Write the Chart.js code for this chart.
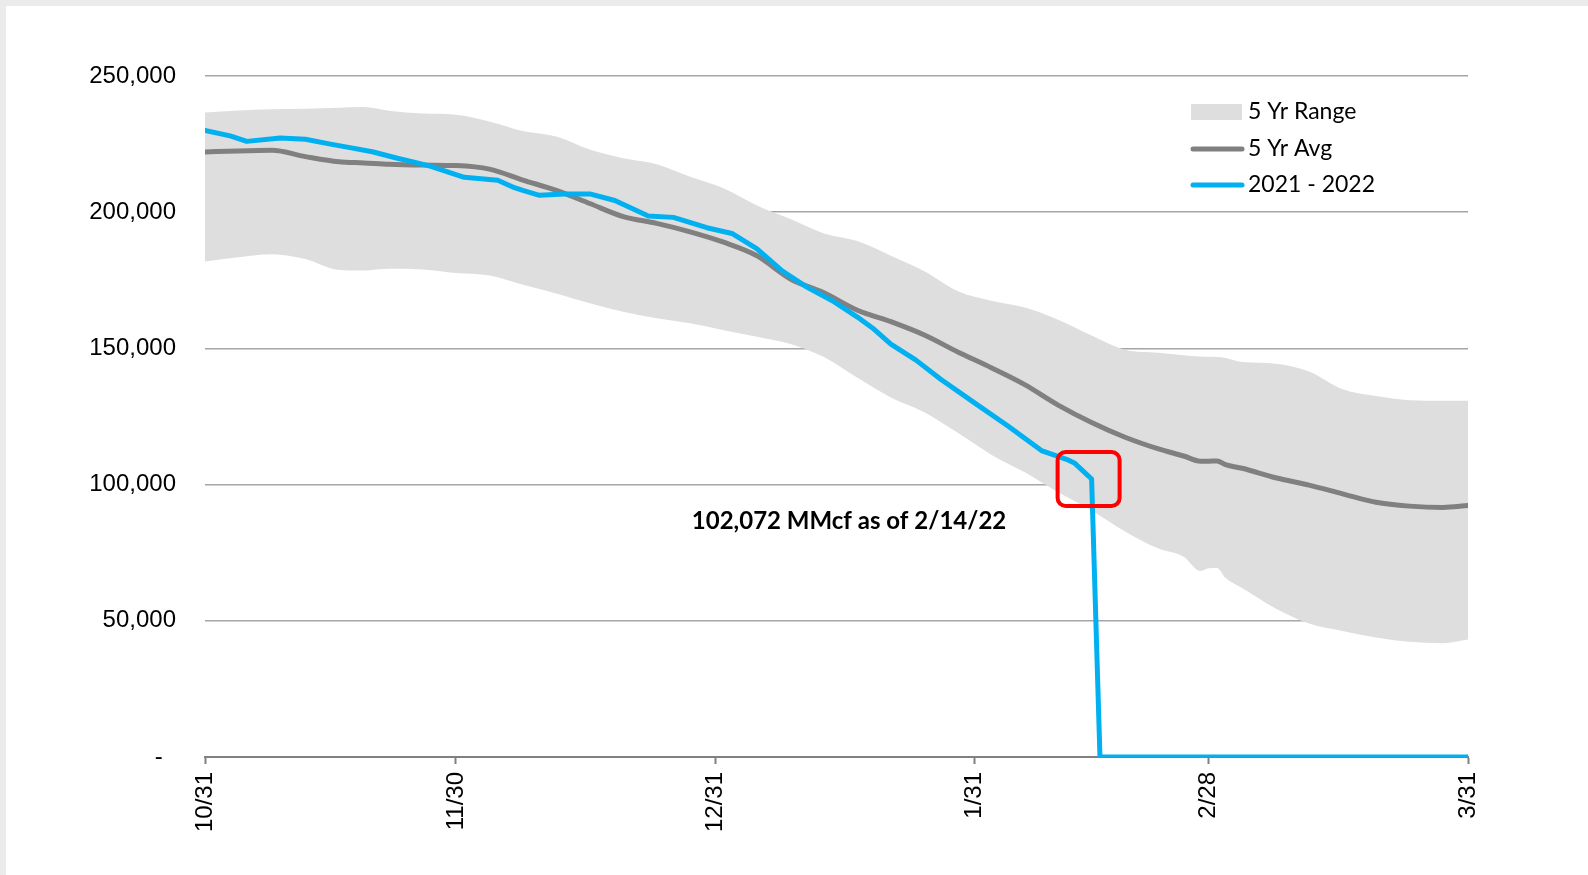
<!DOCTYPE html>
<html>
<head>
<meta charset="utf-8">
<script src="https://cdn.jsdelivr.net/npm/chart.js@4.4.0/dist/chart.umd.min.js"></script>
<style>
  html, body { margin: 0; padding: 0; }
  body { width: 1588px; height: 875px; background: #ebebeb; position: relative; overflow: hidden; }
  .sheet { position: absolute; left: 6px; top: 6px; right: 0; bottom: 0; background: #ffffff; }
  #chart { position: absolute; left: 0; top: 0; }
</style>
</head>
<body>
<div class="sheet"></div>
<canvas id="chart" width="1588" height="875"></canvas>
<script>
// days counted from 10/31
const tickDays = [0, 30, 61, 92, 120, 151];
const tickLabels = ["10/31", "11/30", "12/31", "1/31", "2/28", "3/31"];

const bandDays = [0, 4, 8, 12, 16, 19, 22, 26, 30, 34, 38, 42, 46, 50, 54, 58, 62, 66, 70, 74,
  78, 82, 86, 90, 94, 98, 102, 106, 110, 114, 117, 119, 120, 121, 122, 124, 128, 132, 136, 140,
  144, 148, 151];
const rangeHigh = [236600, 237300, 237800, 238000, 238300, 238600, 237200, 236200, 235800, 233300,
  229800, 227800, 223000, 219800, 217600, 213000, 208800, 202500, 197500, 192200,
  189400, 184000, 178300, 171000, 167500, 165000, 160500, 154700, 149500, 148400,
  147500, 147000, 146900, 146800, 146500, 145000, 144400, 141500, 135000, 132500,
  131000, 130800, 130800];
const rangeLow = [181900, 183500, 184600, 182800, 178800, 178600, 179200, 179000, 177700, 176800,
  173400, 170200, 166600, 163500, 161100, 159200, 156700, 154300, 151600, 146800,
  139200, 132000, 126600, 119000, 111000, 104500, 97200, 90500, 82800, 76500,
  73500, 68300, 69300, 69400, 65800, 62000, 54500, 49000, 46300, 43900,
  42300, 41800, 43100];
const avgValues = [222100, 222500, 222700, 220400, 218500, 218100, 217600, 217300, 217100, 215800,
  211800, 208000, 203200, 198400, 195900, 192800, 189000, 184000, 175500, 170400,
  164000, 159800, 154900, 148700, 142900, 136700, 129200, 122800, 117400, 113100,
  110500, 108600, 108600, 108700, 107300, 106000, 102500, 99800, 96600, 93500,
  92100, 91600, 92300];

const currentDays = [0, 3, 5, 9, 12, 15, 17, 20, 23, 25, 27, 31, 35, 37, 38, 40, 43, 46, 49, 53,
  56, 60, 63, 66, 69, 72, 75, 78, 80, 82, 85, 88, 92, 96, 100, 103, 104, 106, 107, 151];
const currentValues = [230000, 228000, 226000, 227200, 226800, 225000, 223900, 222200, 219800, 218400,
  216800, 212800, 211700, 209000, 208000, 206200, 206700, 206700, 204300, 198600,
  198100, 194300, 192200, 186500, 178500, 172400, 167500, 161500, 157000, 151600,
  145700, 138600, 130000, 121500, 112500, 109300, 107800, 102072, 0, 0];

const legendNames = ["5 Yr Range", "5 Yr Avg", "2021 - 2022"];
const noteText = "102,072 MMcf as of 2/14/22";
const noteDay = 77;
const noteValue = 86500;
const markDay = 106;
const markValue = 102072;

const rangeColor = "#dedede";
const avgColor = "#808080";
const currentColor = "#00b0f0";

function pairs(xs, ys) {
  return xs.map(function(x, i) {
    return { x: x, y: ys[i] };
  });
}

const extras = {
  id: "extras",
  afterDatasetsDraw(chart) {
    const ctx = chart.ctx;
    const xs = chart.scales.x;
    const ys = chart.scales.y;
    const area = chart.chartArea;
    ctx.save();

    // red box round the last reading
    const bx = xs.getPixelForValue(markDay) - 3;
    const by = ys.getPixelForValue(markValue);
    ctx.strokeStyle = "#ff0000";
    ctx.lineWidth = 4;
    ctx.beginPath();
    ctx.roundRect(bx - 31, by - 27, 62, 54, 8);
    ctx.stroke();

    // note
    ctx.fillStyle = "#000000";
    ctx.font = "bold 24px Lato";
    ctx.textAlign = "center";
    ctx.textBaseline = "middle";
    ctx.fillText(noteText, xs.getPixelForValue(noteDay), ys.getPixelForValue(noteValue));

    // legend
    const lx = area.right - 277;
    const rows = [area.top + 36, area.top + 73, area.top + 109];
    ctx.fillStyle = rangeColor;
    ctx.fillRect(lx, rows[0] - 8, 51, 16);
    ctx.lineCap = "round";
    ctx.lineWidth = 5;
    ctx.strokeStyle = avgColor;
    ctx.beginPath();
    ctx.moveTo(lx + 2, rows[1]);
    ctx.lineTo(lx + 51, rows[1]);
    ctx.stroke();
    ctx.strokeStyle = currentColor;
    ctx.beginPath();
    ctx.moveTo(lx + 2, rows[2]);
    ctx.lineTo(lx + 51, rows[2]);
    ctx.stroke();
    ctx.fillStyle = "#000000";
    ctx.font = "23px Lato";
    ctx.textAlign = "left";
    legendNames.forEach(function(name, i) {
      ctx.fillText(name, lx + 57, rows[i]);
    });
    ctx.restore();
  }
};

new Chart(document.getElementById("chart"), {
  type: "line",
  data: {
    datasets: [
      {
        label: legendNames[1],
        data: pairs(bandDays, avgValues),
        borderColor: avgColor,
        borderWidth: 5,
        order: 1
      },
      {
        label: legendNames[2],
        data: pairs(currentDays, currentValues),
        borderColor: currentColor,
        borderWidth: 5,
        cubicInterpolationMode: "default",
        tension: 0,
        order: 0
      },
      {
        label: legendNames[0],
        data: pairs(bandDays, rangeHigh),
        borderWidth: 0,
        borderColor: "rgba(0,0,0,0)",
        backgroundColor: rangeColor,
        fill: "+1",
        order: 2
      },
      {
        label: "low",
        data: pairs(bandDays, rangeLow),
        borderWidth: 0,
        borderColor: "rgba(0,0,0,0)",
        fill: false,
        order: 3
      }
    ]
  },
  options: {
    responsive: false,
    animation: false,
    devicePixelRatio: 1,
    layout: { padding: { top: 76, right: 120, left: 0, bottom: 0 } },
    elements: {
      point: { radius: 0 },
      line: { cubicInterpolationMode: "monotone", borderCapStyle: "round", borderJoinStyle: "round" }
    },
    plugins: {
      legend: { display: false },
      tooltip: { enabled: false }
    },
    scales: {
      x: {
        type: "linear",
        min: 0,
        max: 151,
        afterBuildTicks: function(scale) {
          scale.ticks = tickDays.map(function(d) { return { value: d }; });
        },
        afterFit: function(scale) { scale.height = 118; },
        ticks: {
          autoSkip: false,
          maxRotation: 90,
          minRotation: 90,
          padding: 8,
          color: "#000000",
          font: { family: "Liberation Sans", size: 24 },
          callback: function(v) {
            const i = tickDays.indexOf(v);
            return i >= 0 ? tickLabels[i] : "";
          }
        },
        grid: { drawOnChartArea: false, drawTicks: true, tickLength: 7, tickColor: "#808080", tickWidth: 2 },
        border: { display: true, color: "#808080", width: 2 }
      },
      y: {
        min: 0,
        max: 250000,
        afterFit: function(scale) { scale.width = 205; },
        ticks: {
          stepSize: 50000,
          padding: 29,
          color: "#000000",
          font: { family: "Liberation Sans", size: 24 },
          callback: function(v) {
            return v === 0 ? "-  " : v.toLocaleString("en-US");
          }
        },
        grid: { color: "#a6a6a6", lineWidth: 1.5, drawTicks: false },
        border: { display: false }
      }
    }
  },
  plugins: [extras]
});
</script>
</body>
</html>
